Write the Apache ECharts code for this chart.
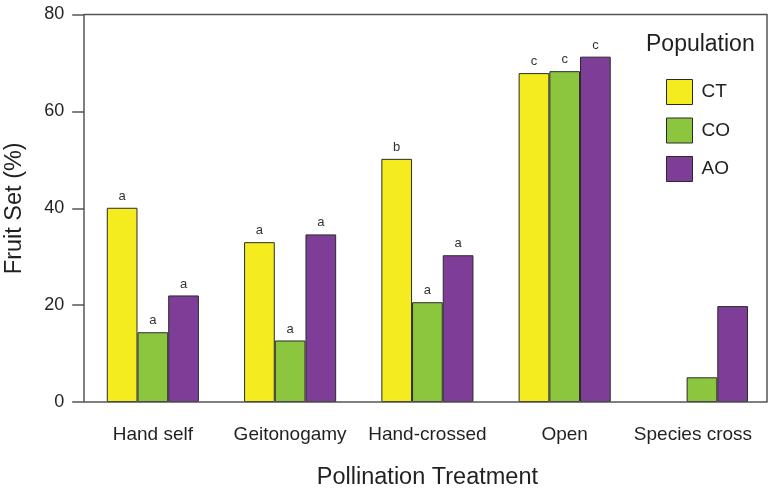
<!DOCTYPE html>
<html>
<head>
<meta charset="utf-8">
<script src="https://cdn.jsdelivr.net/npm/echarts@6/dist/echarts.min.js"></script>
<style>html,body{margin:0;padding:0;background:#fff}#c{width:771px;height:493px}</style>
</head>
<body>
<div id="c"></div>
<script>
const categories = ['Hand self', 'Geitonogamy', 'Hand-crossed', 'Open', 'Species cross'];
const seriesNames = ['CT', 'CO', 'AO'];
const ctValues = [40.1, 33.0, 50.2, 67.9, null];
const coValues = [14.4, 12.7, 20.6, 68.3, 5.1];
const aoValues = [22.0, 34.6, 30.3, 71.3, 19.8];
const ctLetters = ['a', 'a', 'b', 'c', ''];
const coLetters = ['a', 'a', 'a', 'c', ''];
const aoLetters = ['a', 'a', 'a', 'c', ''];
const yTicks = [0, 20, 40, 60, 80];

const colors = ['#F5EC1F', '#8CC63F', '#7E3D97'];
const FONT = 'Liberation Sans, Arial, sans-serif';

function mkSeries(name, values, letters, color) {
  return {
    name: name,
    type: 'bar',
    data: values.map((v, i) => (v === null ? '-' : { value: v, label: { formatter: letters[i] } })),
    barWidth: 30.7,
    barGap: '0%',
    itemStyle: { color: color, borderColor: '#2a2a2a', borderWidth: 1 },
    label: { show: true, position: 'top', distance: 5, color: '#333', fontSize: 13, fontFamily: FONT },
    emphasis: { disabled: true },
    animation: false
  };
}

const catData = categories.map((c, i) => (i === categories.length - 1
  ? { value: c, textStyle: { padding: [0, 18, 0, 0] } }
  : c));

const chart = echarts.init(document.getElementById('c'), null, { renderer: 'canvas' });
chart.setOption({
  animation: false,
  backgroundColor: '#fff',
  title: {
    text: 'Population', left: 646, top: 33, padding: 0,
    textStyle: { fontSize: 23, fontWeight: 'normal', color: '#231f20', fontFamily: FONT }
  },
  legend: {
    data: seriesNames,
    orient: 'vertical', left: 666, top: 79, padding: 0,
    icon: 'rect',
    itemWidth: 26, itemHeight: 25, itemGap: 12.5,
    itemStyle: { borderColor: '#2a2a2a', borderWidth: 1 },
    textStyle: { fontSize: 19, color: '#231f20', fontFamily: FONT, padding: [0, 0, 0, 4] },
    selectedMode: false
  },
  grid: {
    left: 84.2, right: 0.4, top: 14.5, bottom: 91,
    outerBoundsMode: 'none', containLabel: false,
    show: false
  },
  graphic: [
    { type: 'polyline', silent: true, z: 10,
      shape: { points: [[84.2, 14.5], [767, 14.5], [767, 402], [84.2, 402]] },
      style: { stroke: '#555', lineWidth: 1.5, fill: null } }
  ],
  xAxis: {
    type: 'category', data: catData,
    name: 'Pollination Treatment', nameLocation: 'middle', nameGap: 64,
    nameTextStyle: { fontSize: 23.5, color: '#231f20', fontFamily: FONT },
    axisLine: { show: false },
    axisTick: { show: false },
    axisLabel: { fontSize: 19, color: '#231f20', margin: 23, fontFamily: FONT, interval: 0 }
  },
  yAxis: {
    type: 'value', min: yTicks[0], max: yTicks[yTicks.length - 1], interval: 20,
    name: 'Fruit Set (%)', nameLocation: 'middle', nameGap: 58,
    nameTextStyle: { fontSize: 23.5, color: '#231f20', fontFamily: FONT },
    axisLine: { show: true, lineStyle: { color: '#555', width: 1.5 } },
    axisTick: { show: true, length: 12, lineStyle: { color: '#555', width: 1.5 } },
    axisLabel: { fontSize: 18, color: '#231f20', margin: 20, fontFamily: FONT },
    splitLine: { show: false }
  },
  series: [
    mkSeries(seriesNames[0], ctValues, ctLetters, colors[0]),
    mkSeries(seriesNames[1], coValues, coLetters, colors[1]),
    mkSeries(seriesNames[2], aoValues, aoLetters, colors[2])
  ]
});
</script>
</body>
</html>
